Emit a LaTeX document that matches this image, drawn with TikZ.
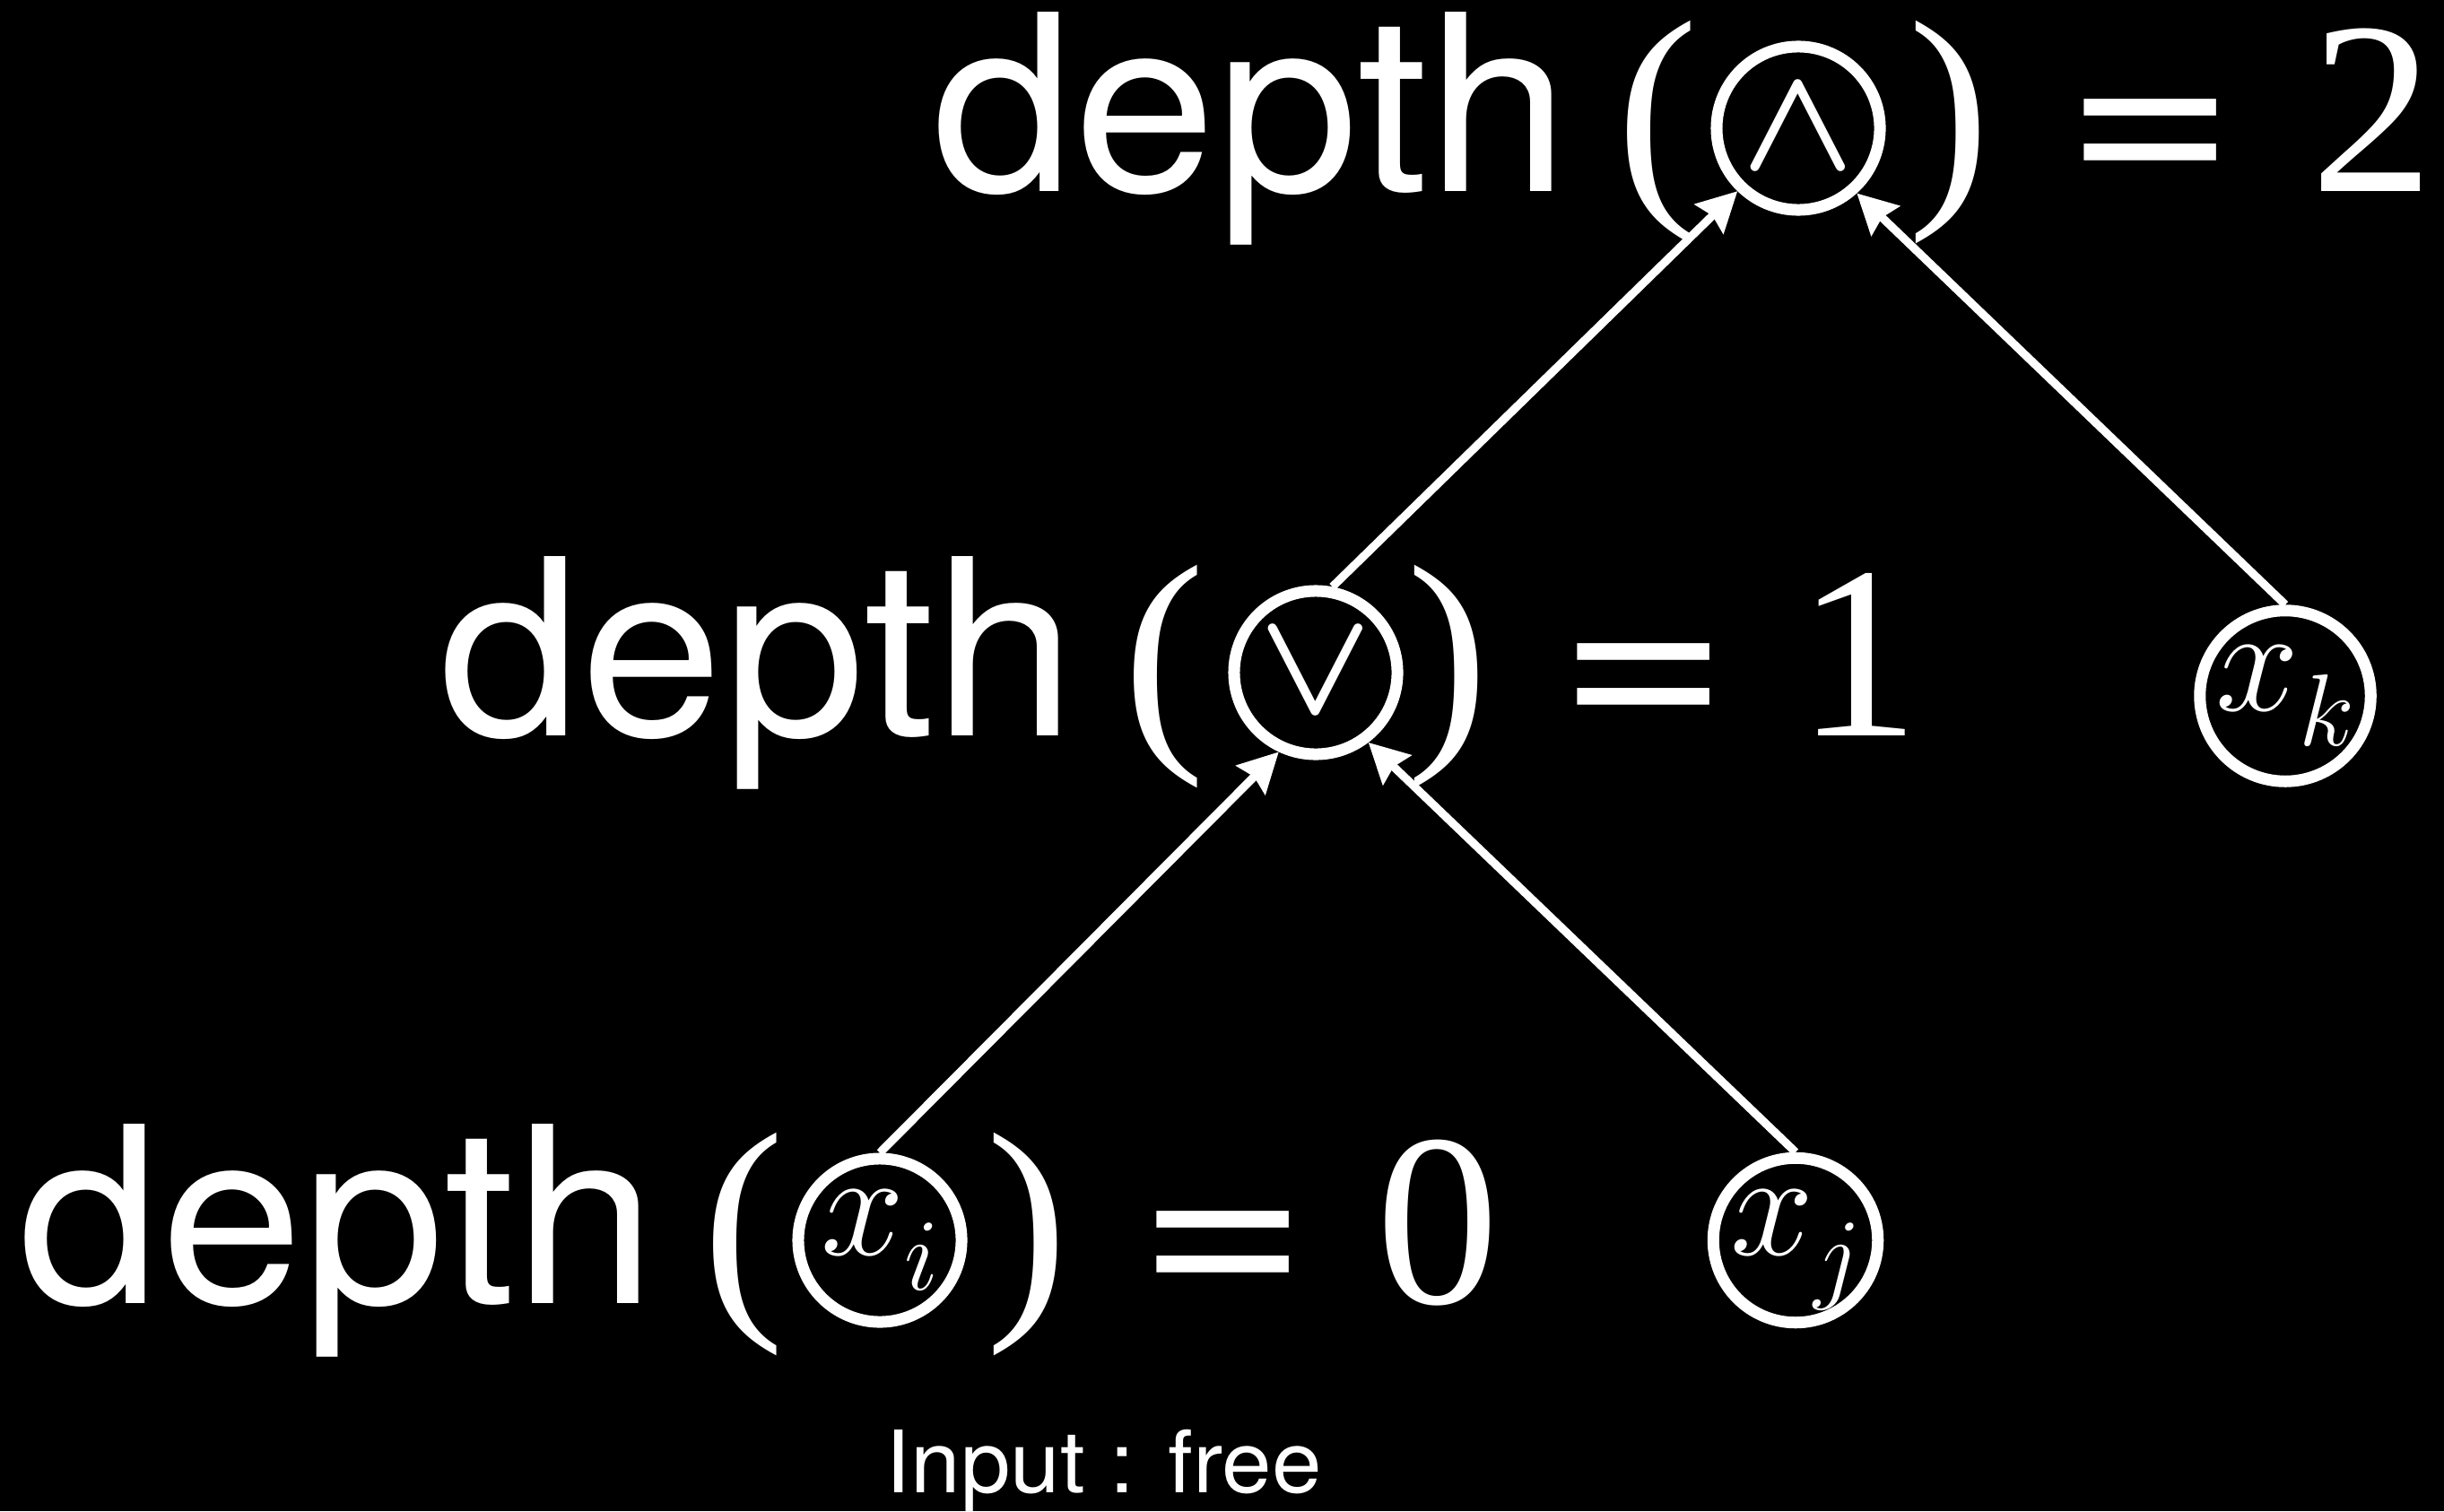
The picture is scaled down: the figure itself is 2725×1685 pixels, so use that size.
\RequirePackage{fix-cm}
\documentclass[tikz,border=0pt]{standalone}
\usepackage{fontspec}
\usepackage{graphicx}
\setmainfont{Liberation Serif}
\newfontfamily\heros[FakeStretch=1.04]{TeX Gyre Heros}
\newfontfamily\herosplain{TeX Gyre Heros}
\usetikzlibrary{arrows.meta}
\newcommand\mysub[1]{\raisebox{-11.1pt}{\fontsize{32.4pt}{36pt}\selectfont\ensuremath{#1}}}
\newcommand\myeq{{\herosplain\scalebox{1.2}[1]{=}}}
\newcommand\andop{\mbox{\boldmath\ensuremath{\wedge}}}
\newcommand\orop{\mbox{\boldmath\ensuremath{\vee}}}
\begin{document}
\begin{tikzpicture}[x=0.01cm,y=-0.01cm,
  big/.style={text=white, inner sep=0pt, anchor=base, font=\fontsize{78pt}{90pt}\selectfont},
  word/.style={big, font=\fontsize{78pt}{90pt}\selectfont\heros},
  gate/.style={circle, draw=white, line width=3.7pt, minimum size=1.82cm, inner sep=0pt, text=white},
  opgate/.style={gate, font=\fontsize{47pt}{52pt}\selectfont},
  var/.style={gate, font=\fontsize{47.5pt}{52pt}\selectfont, text height=20.5pt, text depth=11.4pt},
  conn/.style={draw=white, line width=2.6pt, -{Stealth[length=0.44cm, width=0.45cm, inset=0.05cm]}}]
\fill[black] (0,0) rectangle (2725,1685);
\useasboundingbox (0,0) rectangle (2725,1685);
% row 1
\node[word] (d1) at (1394.5,213) {depth};
\node[big] (lp1) at (1848,213) {(};
\node[big] (rp1) at (2173,213) {)};
\node[big] (eq1) at (2398,213) {\myeq};
\node[big] (n1) at (2645,213) {2};
% row 2
\node[word] (d2) at (844.5,820) {depth};
\node[big] (lp2) at (1298,820) {(};
\node[big] (rp2) at (1614,820) {)};
\node[big] (eq2) at (1832.5,820) {\myeq};
\node[big] (n2) at (2072.5,820) {1};
% row 3
\node[word] (d3) at (376,1453) {depth};
\node[big] (lp3) at (829.5,1453) {(};
\node[big] (rp3) at (1145,1453) {)};
\node[big] (eq3) at (1364,1453) {\myeq};
\node[big] (n3) at (1603.5,1453) {0};
% gates
\node[opgate] (a) at (2005,143) {\andop};
\node[opgate] (v) at (1467,750) {\orop};
\node[var] (xi) at (981,1383) {\ensuremath{x}\mysub{i}};
\node[var] (xj) at (2002,1383) {\ensuremath{x}\mysub{j}};
\node[var] (xk) at (2548,776) {\ensuremath{x}\mysub{k}};
% connectors
\draw[conn] (xi.north) -- (v.245);
\draw[conn] (xj.north) -- (v.307);
\draw[conn] (v.79) -- (a.226);
\draw[conn] (xk.north) -- (a.312);
% caption
\node[text=white, inner sep=0pt, anchor=base, font=\fontsize{27.3pt}{32pt}\selectfont\heros] (inp) at (1230.5,1664) {Input : free};
\end{tikzpicture}
\end{document}
